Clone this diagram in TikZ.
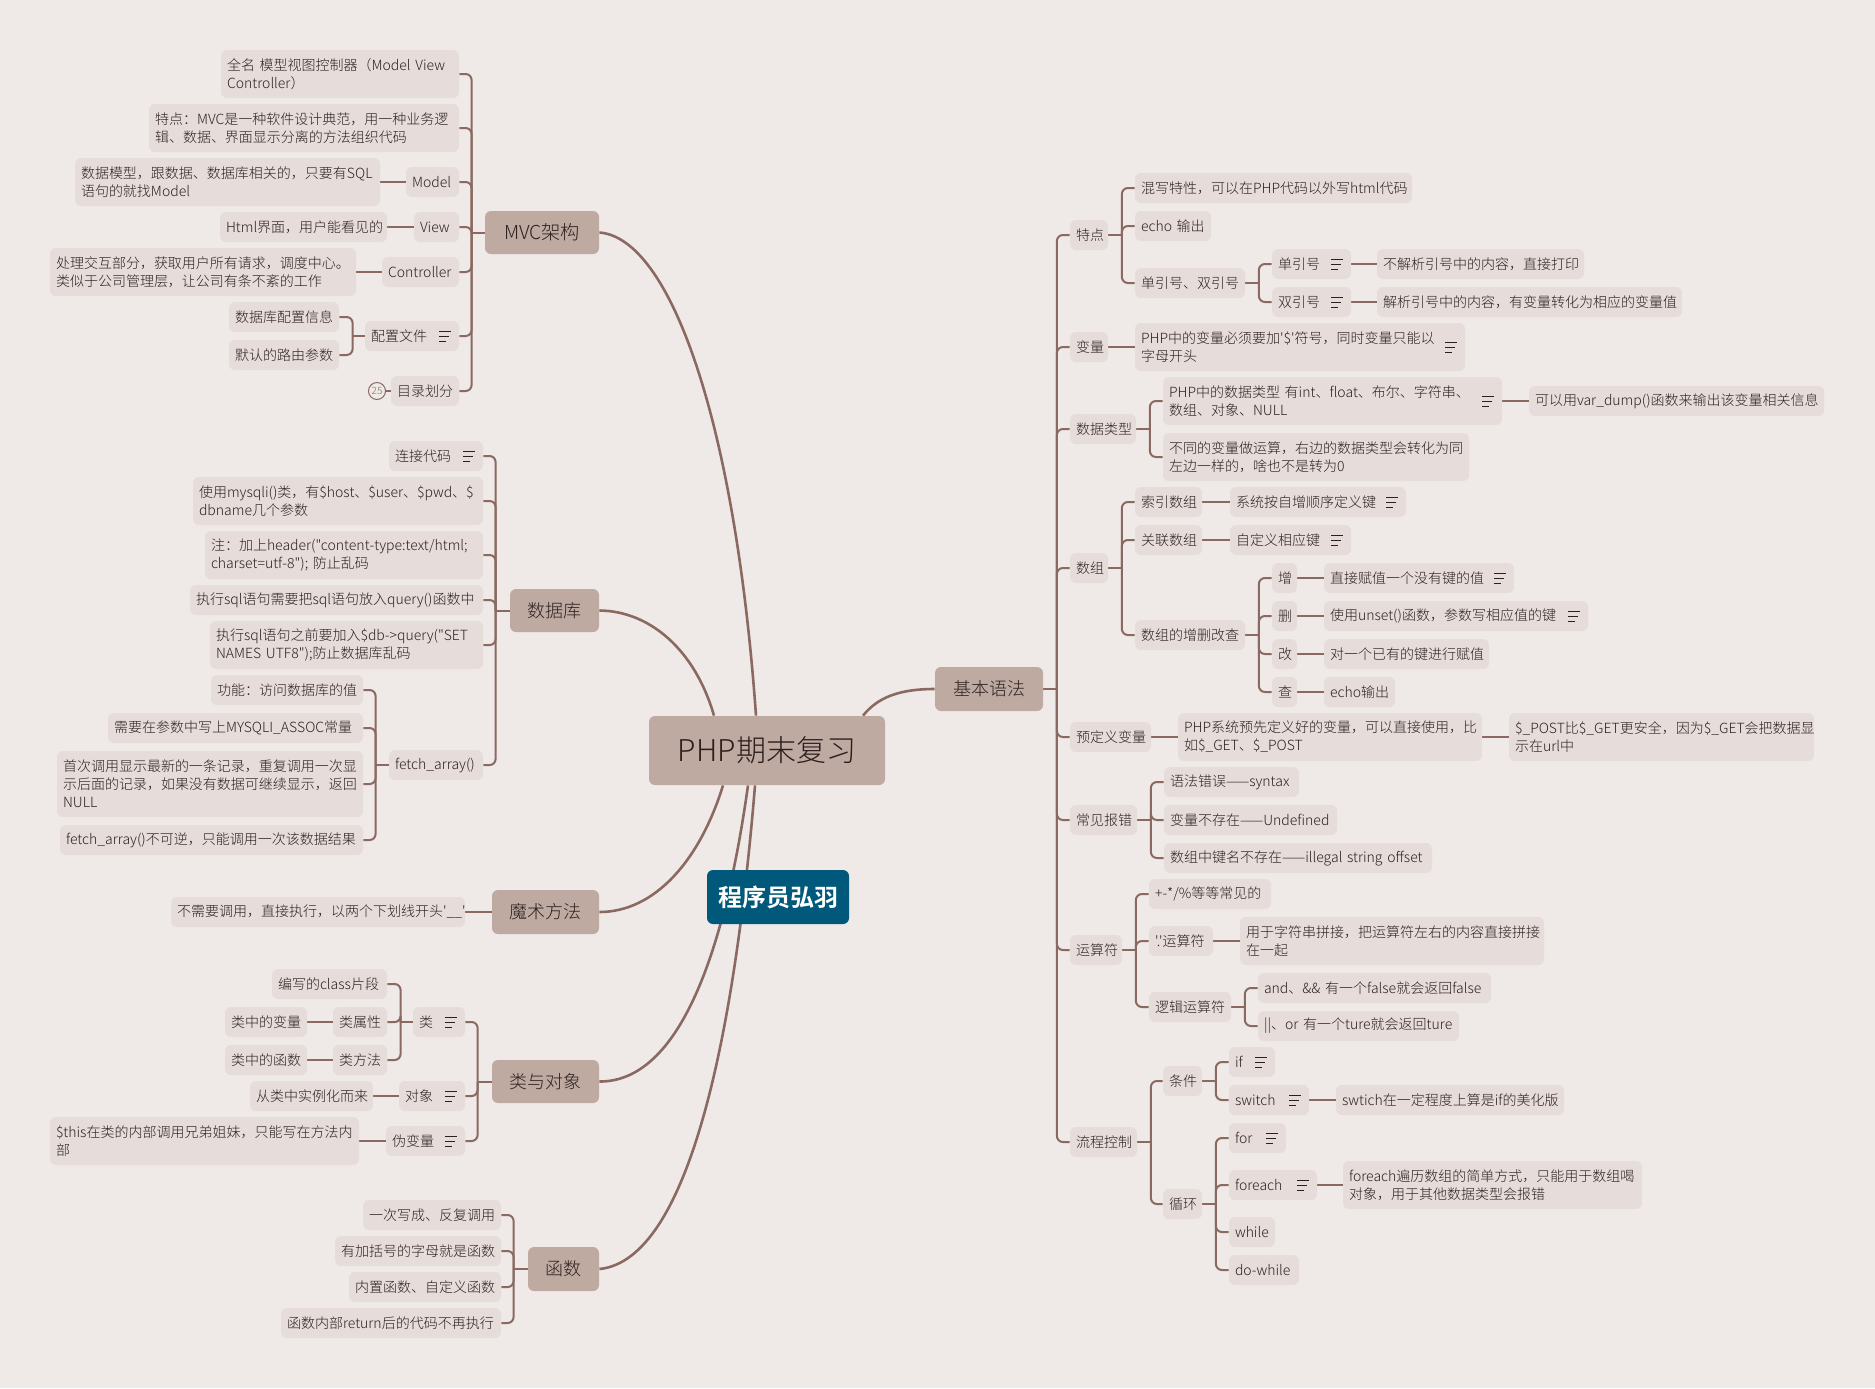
\documentclass[tikz,border=0pt]{standalone}
\usepackage{fontspec}
\setmainfont{Noto Sans CJK SC}[Ligatures=TeXOff,UprightFont=* Light,BoldFont=* Bold]
\usetikzlibrary{backgrounds,calc}
\definecolor{pagebg}{HTML}{EFEAE8}
\definecolor{subfill}{HTML}{E6DDDB}
\definecolor{mainfill}{HTML}{BFAAA2}
\definecolor{inkcol}{HTML}{2B201E}
\definecolor{linecol}{HTML}{8A6A60}
\definecolor{bluefill}{HTML}{00597A}
\tikzset{
  x=0.5pt,y=-0.5pt,
  subnode/.style={fill=subfill,rounded corners=3pt,inner xsep=3pt,inner ysep=0pt,align=left,text=inkcol,font=\fontsize{7}{9}\selectfont},
  mainnode/.style={fill=mainfill,rounded corners=3pt,inner xsep=3pt,inner ysep=0pt,align=center,text=inkcol,font=\fontsize{9}{11}\selectfont},
  rootnode/.style={fill=mainfill,rounded corners=3pt,inner xsep=3pt,inner ysep=0pt,align=center,text=inkcol,font=\fontsize{15}{18}\selectfont},
  blueplate/.style={fill=bluefill,rounded corners=3pt,inner xsep=3pt,inner ysep=0pt,align=center,text=white,font=\fontsize{12}{14}\selectfont\bfseries},
  conn/.style={draw=linecol,line width=1pt,rounded corners=3pt},
  bigcurve/.style={draw=linecol,line width=1.3pt},
  iconline/.style={draw=inkcol,line width=0.35pt},
}
\newcommand\bx[7][subnode]{%
  \pgfmathsetmacro\cxx{(#3+#5)/2}\pgfmathsetmacro\cyy{(#4+#6)/2}%
  \pgfmathsetmacro\ww{(#5-#3)*0.5}\pgfmathsetmacro\hh{(#6-#4)*0.5}%
  \pgfmathsetmacro\tww{\ww-6}%
  \node[#1,minimum width=\ww pt,minimum height=\hh pt,text width=\tww pt] (#2) at (\cxx,\cyy) {#7};}
\newcommand\noteicon[1]{%
  \draw[iconline] ($(#1.east)+(-20,-5)$) -- ++(12,0);
  \draw[iconline] ($(#1.east)+(-20,0)$) -- ++(10,0);
  \draw[iconline] ($(#1.east)+(-20,5)$) -- ++(7,0);}
\newcommand\treeleft[3]{%
  \coordinate (tr#1) at ($(#1.west)+(-#2,0)$);
  \draw[conn] (tr#1) -- (#1.west);
  \foreach \cc in {#3} {\draw[conn] (\cc.east) -| (tr#1);}}
\newcommand\treeright[2]{%
  \coordinate (tr#1) at ($(#1.east)+(13.5,0)$);
  \draw[conn] (tr#1) -- (#1.east);
  \foreach \cc in {#2} {\draw[conn] (\cc.west) -| (tr#1);}}
\begin{document}
\begin{tikzpicture}
\useasboundingbox (0,0) rectangle (1875,1388);
% centre
\bx[rootnode]{root}{649}{716}{885}{785}{PHP期末复习}
\bx[blueplate]{plate}{707}{870}{849}{924}{程序员弘羽}
% MVC
\bx[mainnode]{mvc}{485}{211}{599}{254}{\fontsize{9.6}{11}\selectfont MVC架构}
\bx{ma}{221}{50}{459}{98}{全名~模型视图控制器（Model~View\\Controller）}
\bx{mb}{149}{104}{459}{152}{特点：MVC是一种软件设计典范，用一种业务逻\\辑、数据、界面显示分离的方法组织代码}
\bx{mc}{406}{167}{459}{197}{Model}
\bx{mcc}{75}{158}{380}{206}{数据模型，跟数据、数据库相关的，只要有SQL\\语句的就找Model}
\bx{md}{414}{212}{459}{242}{View}
\bx{mdd}{220}{212}{387}{242}{Html界面，用户能看见的}
\bx{me}{382}{257}{459}{287}{Controller}
\bx{mee}{50}{248}{356}{296}{处理交互部分，获取用户所有请求，调度中心。\\类似于公司管理层，让公司有条不紊的工作}
\bx{mf}{365}{321}{459}{351}{配置文件}
\bx{mfa}{229}{302}{339}{332}{数据库配置信息}
\bx{mfb}{229}{340}{339}{370}{默认的路由参数}
\bx{mg}{391}{376}{459}{406}{目录划分}
\node[circle,draw=linecol,line width=0.5pt,inner sep=0pt,minimum size=8.5pt,text=linecol,font=\fontsize{5}{6}\selectfont] (cnt) at (377,391) {25};
% DB
\bx[mainnode]{db}{510}{589}{599}{632}{数据库}
\bx{da}{389}{441}{483}{471}{连接代码}
\bx{db1}{193}{477}{483}{525}{使用mysqli()类，有\$host、\$user、\$pwd、\$\\dbname几个参数}
\bx{db2}{205}{531}{483}{579}{注：加上header("content\mbox{-}type:text/html;\\charset=utf\mbox{-}8"); 防止乱码}
\bx{db3}{190}{585}{483}{615}{执行sql语句需要把sql语句放入query()函数中}
\bx{db4}{210}{621}{483}{669}{执行sql语句之前要加入\$db\mbox{-}>query("SET\\NAMES~UTF8");防止数据库乱码}
\bx{dbf}{389}{750}{483}{780}{fetch\_array()}
\bx{dfa}{211}{675}{363}{705}{功能：访问数据库的值}
\bx{dfb}{108}{713}{363}{743}{需要在参数中写上MYSQLI\_ASSOC常量}
\bx{dfc}{57}{751}{363}{817}{首次调用显示最新的一条记录，重复调用一次显\\示后面的记录，如果没有数据可继续显示，返回\\NULL}
\bx{dfd}{60}{825}{363}{855}{fetch\_array()不可逆，只能调用一次该数据结果}
% magic
\bx[mainnode]{magic}{492}{890}{599}{934}{魔术方法}
\bx{maga}{171}{897}{465}{927}{不需要调用，直接执行，以两个下划线开头'\_\_'}
% class
\bx[mainnode]{cls}{492}{1060}{599}{1103}{类与对象}
\bx{ca}{413}{1007}{465}{1037}{类}
\bx{caa}{272}{969}{387}{999}{编写的class片段}
\bx{cab}{333}{1007}{387}{1037}{类属性}
\bx{cabb}{225}{1007}{307}{1037}{类中的变量}
\bx{cac}{333}{1045}{387}{1075}{类方法}
\bx{cacc}{225}{1045}{307}{1075}{类中的函数}
\bx{cb}{399}{1081}{465}{1111}{对象}
\bx{cbb}{250}{1081}{373}{1111}{从类中实例化而来}
\bx{cc}{386}{1126}{465}{1156}{伪变量}
\bx{ccc}{50}{1117}{359}{1165}{\$this在类的内部调用兄弟姐妹，只能写在方法内\\部}
% func
\bx[mainnode]{fn}{528}{1247}{599}{1291}{函数}
\bx{fa}{363}{1200}{501}{1230}{一次写成、反复调用}
\bx{fb}{335}{1236}{501}{1266}{有加括号的字母就是函数}
\bx{fc}{349}{1272}{501}{1302}{内置函数、自定义函数}
\bx{fd}{281}{1308}{501}{1338}{函数内部return后的代码不再执行}
% basics
\bx[mainnode]{base}{935}{667}{1043}{711}{基本语法}
\bx{ra}{1070}{220}{1108}{250}{特点}
\bx{raa}{1135}{173}{1412}{203}{混写特性，可以在PHP代码以外写html代码}
\bx{rab}{1135}{211}{1211}{241}{echo~输出}
\bx{rac}{1135}{268}{1245}{298}{单引号、双引号}
\bx{raca}{1272}{249}{1351}{279}{单引号}
\bx{racaa}{1377}{249}{1584}{279}{不解析引号中的内容，直接打印}
\bx{racb}{1272}{287}{1351}{317}{双引号}
\bx{racbb}{1377}{287}{1682}{317}{解析引号中的内容，有变量转化为相应的变量值}
\bx{rb}{1070}{332}{1108}{362}{变量}
\bx{rbb}{1135}{323}{1465}{371}{PHP中的变量必须要加'\$'符号，同时变量只能以\\字母开头}
\bx{rc}{1070}{414}{1136}{444}{数据类型}
\bx{rca}{1163}{377}{1502}{425}{PHP中的数据类型~有int、float、布尔、字符串、\\数组、对象、NULL}
\bx{rcaa}{1529}{386}{1824}{416}{可以用var\_dump()函数来输出该变量相关信息}
\bx{rcb}{1163}{433}{1469}{481}{不同的变量做运算，右边的数据类型会转化为同\\左边一样的，啥也不是转为0}
\bx{rd}{1070}{553}{1108}{583}{数组}
\bx{rda}{1135}{487}{1202}{517}{索引数组}
\bx{rdaa}{1230}{487}{1406}{517}{系统按自增顺序定义键}
\bx{rdb}{1135}{525}{1202}{555}{关联数组}
\bx{rdbb}{1230}{525}{1351}{555}{自定义相应键}
\bx{rdc}{1135}{620}{1245}{650}{数组的增删改查}
\bx{rdca}{1272}{563}{1297}{593}{增}
\bx{rdcaa}{1324}{563}{1514}{593}{直接赋值一个没有键的值}
\bx{rdcb}{1272}{601}{1297}{631}{删}
\bx{rdcbb}{1324}{601}{1588}{631}{使用unset()函数，参数写相应值的键}
\bx{rdcc}{1272}{639}{1297}{669}{改}
\bx{rdccc}{1324}{639}{1489}{669}{对一个已有的键进行赋值}
\bx{rdcd}{1272}{677}{1297}{707}{查}
\bx{rdcdd}{1324}{677}{1395}{707}{echo输出}
\bx{re}{1070}{722}{1151}{752}{预定义变量}
\bx{ree}{1178}{713}{1482}{761}{PHP系统预先定义好的变量，可以直接使用，比\\如\$\_GET、\$\_POST}
\bx{reee}{1509}{713}{1814}{761}{\$\_POST比\$\_GET更安全，因为\$\_GET会把数据显\\示在url中}
\bx{rf}{1070}{805}{1137}{835}{常见报错}
\bx{rfa}{1164}{767}{1299}{797}{\mbox{语法错误——syntax}}
\bx{rfb}{1164}{805}{1337}{835}{\mbox{变量不存在——Undefined}}
\bx{rfc}{1164}{843}{1432}{873}{\mbox{数组中键名不存在——illegal string offset}}
\bx{rg}{1070}{935}{1122}{965}{运算符}
\bx{rga}{1149}{879}{1271}{909}{+-*/\%等等常见的}
\bx{rgb}{1149}{926}{1213}{956}{'.'运算符}
\bx{rgbb}{1240}{917}{1544}{965}{用于字符串拼接，把运算符左右的内容直接拼接\\在一起}
\bx{rgc}{1149}{992}{1231}{1022}{逻辑运算符}
\bx{rgca}{1258}{973}{1491}{1003}{\mbox{and、\&\& 有一个false就会返回false}}
\bx{rgcb}{1258}{1011}{1459}{1041}{\mbox{||、or 有一个ture就会返回ture}}
\bx{rh}{1070}{1127}{1137}{1157}{流程控制}
\bx{rha}{1163}{1066}{1202}{1096}{条件}
\bx{rhaa}{1229}{1047}{1275}{1077}{if}
\bx{rhab}{1229}{1085}{1309}{1115}{switch}
\bx{rhabb}{1336}{1085}{1564}{1115}{swtich在一定程度上算是if的美化版}
\bx{rhb}{1163}{1189}{1202}{1219}{循环}
\bx{rhba}{1229}{1123}{1286}{1153}{for}
\bx{rhbb}{1229}{1170}{1317}{1200}{foreach}
\bx{rhbbb}{1343}{1161}{1642}{1209}{foreach遍历数组的简单方式，只能用于数组喝\\对象，用于其他数据类型会报错}
\bx{rhbc}{1229}{1217}{1275}{1247}{while}
\bx{rhbd}{1229}{1255}{1299}{1285}{do-while}
% note icons
\foreach \nn in {mf,da,ca,cb,cc,raca,racb,rbb,rca,rdaa,rdbb,rdcaa,rdcbb,rhaa,rhab,rhba,rhbb} {\noteicon{\nn}}
\begin{scope}[on background layer]
\fill[pagebg] (0,0) rectangle (1875,1388);
% big curves
\draw[bigcurve] (mvc.east) .. controls (670,238) and (735,420) .. ($(root.north)+(-11,0)$);
\draw[bigcurve] (db.east) .. controls (650,611) and (695,650) .. ($(root.north)+(-53,0)$);
\draw[bigcurve] (magic.east) .. controls (655,912) and (700,860) .. ($(root.south)+(-44,0)$);
\draw[bigcurve] (cls.east) .. controls (680,1082) and (725,950) .. ($(root.south)+(-19,0)$);
\draw[bigcurve] (fn.east) .. controls (690,1260) and (735,1030) .. ($(root.south)+(-12,0)$);
\draw[bigcurve] (base.west) .. controls (900,689) and (878,697) .. ($(root.north)+(96,0)$);
% left trees
\treeleft{mvc}{13}{ma,mb,mc,md,me,mf,mg}
\treeleft{mf}{12}{mfa,mfb}
\treeleft{db}{14}{da,db1,db2,db3,db4,dbf}
\treeleft{dbf}{13}{dfa,dfb,dfc,dfd}
\treeleft{cls}{14}{ca,cb,cc}
\treeleft{ca}{12}{caa,cab,cac}
\treeleft{fn}{14}{fa,fb,fc,fd}
\draw[conn] (mcc) -- (mc);
\draw[conn] (mdd) -- (md);
\draw[conn] (mee) -- (me);
\draw[conn] (cnt) -- (mg);
\draw[conn] (maga) -- (magic);
\draw[conn] (cabb) -- (cab);
\draw[conn] (cacc) -- (cac);
\draw[conn] (cbb) -- (cb);
\draw[conn] (ccc) -- (cc);
% right trees
\treeright{base}{ra,rb,rc,rd,re,rf,rg,rh}
\treeright{ra}{raa,rab,rac}
\treeright{rac}{raca,racb}
\treeright{rc}{rca,rcb}
\treeright{rd}{rda,rdb,rdc}
\treeright{rdc}{rdca,rdcb,rdcc,rdcd}
\treeright{rf}{rfa,rfb,rfc}
\treeright{rg}{rga,rgb,rgc}
\treeright{rgc}{rgca,rgcb}
\treeright{rh}{rha,rhb}
\treeright{rha}{rhaa,rhab}
\treeright{rhb}{rhba,rhbb,rhbc,rhbd}
\draw[conn] (raca) -- (racaa);
\draw[conn] (racb) -- (racbb);
\draw[conn] (rb) -- (rbb);
\draw[conn] (rca) -- (rcaa);
\draw[conn] (rda) -- (rdaa);
\draw[conn] (rdb) -- (rdbb);
\draw[conn] (rdca) -- (rdcaa);
\draw[conn] (rdcb) -- (rdcbb);
\draw[conn] (rdcc) -- (rdccc);
\draw[conn] (rdcd) -- (rdcdd);
\draw[conn] (re) -- (ree);
\draw[conn] (ree) -- (reee);
\draw[conn] (rgb) -- (rgbb);
\draw[conn] (rhab) -- (rhabb);
\draw[conn] (rhbb) -- (rhbbb);
\end{scope}
\end{tikzpicture}
\end{document}
